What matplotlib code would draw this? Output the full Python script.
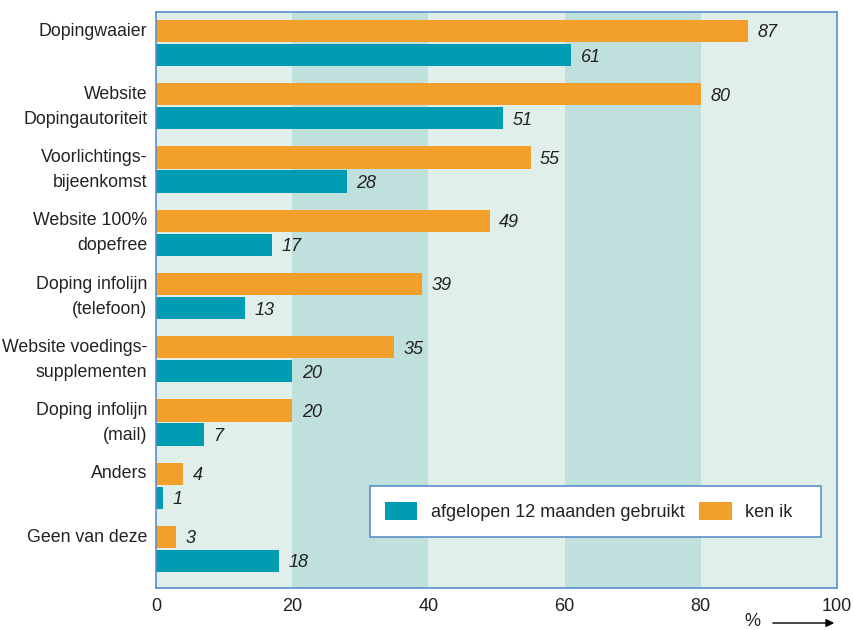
import matplotlib
matplotlib.use("Agg")
import matplotlib.pyplot as plt
from matplotlib.patches import Patch, Rectangle, FancyArrowPatch
import numpy as np

categories = ["Dopingwaaier", "Website\nDopingautoriteit", "Voorlichtings-\nbijeenkomst",
              "Website 100%\ndopefree", "Doping infolijn\n(telefoon)", "Website voedings-\nsupplementen",
              "Doping infolijn\n(mail)", "Anders", "Geen van deze"]
ken_ik = [87, 80, 55, 49, 39, 35, 20, 4, 3]
gebruikt = [61, 51, 28, 17, 13, 20, 7, 1, 18]
series_names = ["afgelopen 12 maanden gebruikt", "ken ik"]
x_ticks = [0, 20, 40, 60, 80, 100]

TEAL = "#009cb2"
ORANGE = "#f29f2c"
LIGHT = "#e0efea"
DARK = "#bfe0dd"
FRAME = "#5b8fc9"
TXT = "#222222"
FS = 13

plt.rcParams['font.family'] = ['Liberation Sans', 'DejaVu Sans']

fig = plt.figure(figsize=(8.54, 6.30), dpi=100)
ax = fig.add_axes([156/854, 1-588/630, (837-156)/854, (588-12)/630])

# background bands
for i, (a, b) in enumerate(zip(x_ticks[:-1], x_ticks[1:])):
    ax.axvspan(a, b, color=DARK if i % 2 else LIGHT, zorder=0, lw=0)

y = np.arange(len(categories))
off = 0.19
h = 0.35
ax.barh(y - off, ken_ik, height=h, color=ORANGE, zorder=2)
ax.barh(y + off, gebruikt, height=h, color=TEAL, zorder=2)

for yi, v in zip(y - off, ken_ik):
    ax.text(v + 1.4, yi, str(v), va='center_baseline', ha='left', fontsize=FS, style='italic', color=TXT)
for yi, v in zip(y + off, gebruikt):
    ax.text(v + 1.4, yi, str(v), va='center_baseline', ha='left', fontsize=FS, style='italic', color=TXT)

ax.set_xlim(0, 100)
ax.set_ylim(8.617, -0.49)
ax.set_xticks(x_ticks)
ax.set_xticklabels([str(t) for t in x_ticks], fontsize=FS, color=TXT)
ax.set_yticks([])
ax.tick_params(axis='x', length=0, pad=7)

# category labels, first line aligned with orange bar
for yi, lab in zip(y, categories):
    ax.text(-1.3, yi - off - 0.13, lab, ha='right', va='top', fontsize=12.8, color=TXT,
            linespacing=1.6)

for s in ax.spines.values():
    s.set_color(FRAME)
    s.set_linewidth(1.2)

# legend box
bx0, by0 = (370-156)/681, (588-537)/576
bw, bh = (821-370)/681, (537-486)/576
ax.add_patch(Rectangle((bx0, by0), bw, bh, transform=ax.transAxes, facecolor='white',
                       edgecolor=FRAME, lw=1.2, zorder=4))
handles = [Patch(facecolor=TEAL, edgecolor='none'), Patch(facecolor=ORANGE, edgecolor='none')]
leg = ax.legend(handles, series_names, loc='center left',
                bbox_to_anchor=(bx0 + 4/681, by0 + bh/2),
                ncol=2, frameon=False, fontsize=FS,
                handlelength=1.8, handleheight=1.2, handletextpad=0.75, columnspacing=0.8,
                borderpad=0.6, borderaxespad=0)
leg.set_zorder(5)
for t in leg.get_texts():
    t.set_color(TXT)

fig.text(752/854, 1-621/630, "%", ha='center', va='center', fontsize=FS, color=TXT)
fig.patches.append(FancyArrowPatch((770/854, 1-623/630), (837/854, 1-623/630),
                   transform=fig.transFigure, arrowstyle='-|>', mutation_scale=12, color='black', lw=1))

fig.savefig("out.png", dpi=100)
